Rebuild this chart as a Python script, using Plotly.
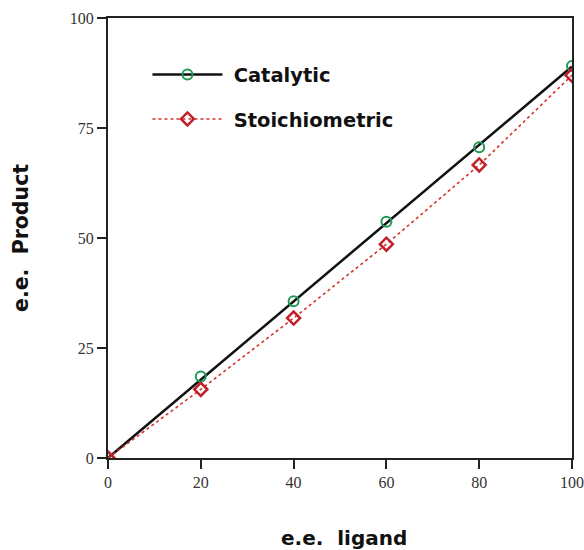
import numpy as np
import plotly.graph_objects as go

ee_ligand = [0, 20, 40, 60, 80, 100]
catalytic = [0, 18.5, 35.6, 53.7, 70.6, 89.1]
stoichiometric = [0, 15.6, 31.8, 48.6, 66.6, 87.0]
x_ticks = [0, 20, 40, 60, 80, 100]
y_ticks = [0, 25, 50, 75, 100]

# linear fit through origin for catalytic series
xa = np.array(ee_ligand, dtype=float)
ya = np.array(catalytic, dtype=float)
slope = float((xa * ya).sum() / (xa * xa).sum())
fit_x = [0, 100]
fit_y = [slope * v for v in fit_x]

cat_marker = dict(symbol="circle-open", size=10, color="#1f9a55", line=dict(width=2))
sto_marker = dict(symbol="diamond-open", size=10, color="#c0202a", line=dict(width=2.5))

fig = go.Figure()
fig.add_trace(go.Scatter(x=fit_x, y=fit_y, mode="lines", line=dict(color="#111111", width=2.5),
                         showlegend=False, hoverinfo="skip"))
fig.add_trace(go.Scatter(x=ee_ligand, y=catalytic, mode="markers", marker=cat_marker, showlegend=False))
fig.add_trace(go.Scatter(x=[None], y=[None], mode="lines+markers", name="\u00a0<b>Catalytic</b>",
                         legendgroup="a", line=dict(color="#111111", width=2.5), marker=cat_marker))
fig.add_trace(go.Scatter(x=ee_ligand, y=stoichiometric, mode="lines+markers",
                         name="\u00a0<b>Stoichiometric</b>",
                         legendgroup="b", line=dict(color="#d2332b", width=1.6, dash="dot"), marker=sto_marker))

axis_common = dict(showline=True, linecolor="#222222", linewidth=2, mirror=True,
                   ticks="outside", ticklen=9, tickwidth=2, tickcolor="#222222",
                   showgrid=False, zeroline=False, automargin=False,
                   tickfont=dict(family="Liberation Serif", size=16, color="#333333"))

fig.update_layout(
    width=584, height=550,
    margin=dict(l=108, r=12, t=18, b=92),
    plot_bgcolor="white", paper_bgcolor="white",
    xaxis=dict(range=[0, 100], tickvals=x_ticks, ticktext=[str(v) for v in x_ticks], **axis_common),
    yaxis=dict(range=[0, 100], tickvals=y_ticks, ticktext=[str(v) for v in y_ticks], **axis_common),
    legend=dict(x=0.085, y=0.915, xanchor="left", yanchor="top", bgcolor="rgba(0,0,0,0)",
                font=dict(family="DejaVu Sans", size=19.5, color="#111111"),
                itemwidth=70, tracegroupgap=16, traceorder="grouped"),
    showlegend=True,
    annotations=[
        dict(text="<b>e.e.  ligand</b>", xref="paper", yref="paper", x=0.509, y=-0.182,
             xanchor="center", yanchor="middle", showarrow=False,
             font=dict(family="DejaVu Sans", size=20, color="#111111")),
        dict(text="<b>e.e.  Product</b>", xref="paper", yref="paper", x=-0.1875, y=0.5,
             xanchor="center", yanchor="middle", showarrow=False, textangle=-90,
             font=dict(family="DejaVu Sans", size=20.5, color="#111111")),
    ],
)
fig.write_html("out.html", config={"displayModeBar": False},
               post_script="document.body.style.margin='0';document.documentElement.style.overflow='hidden';document.body.style.overflow='hidden';")
